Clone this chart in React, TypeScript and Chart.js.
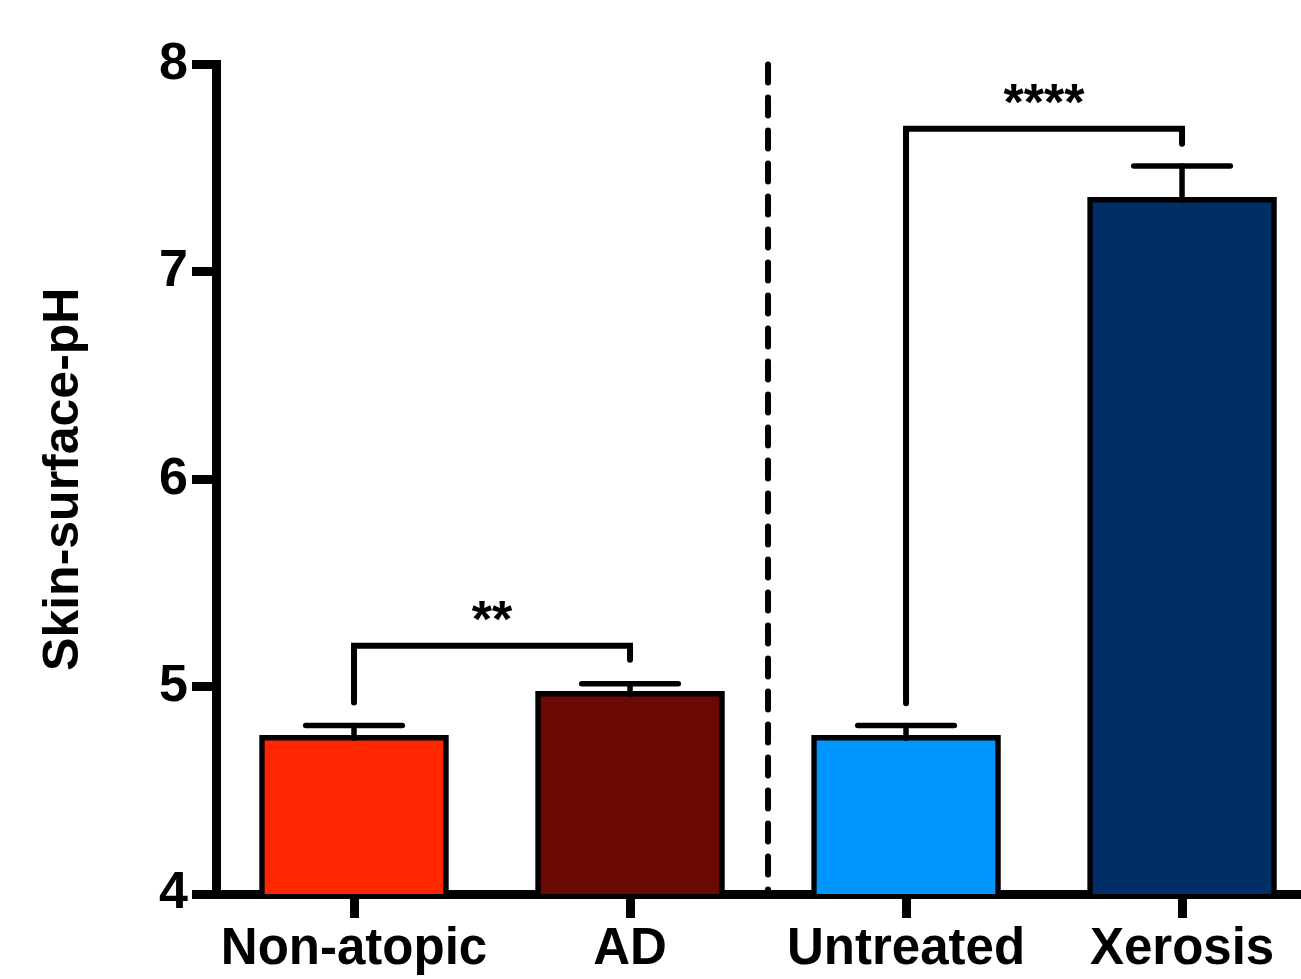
import React, { useEffect, useRef } from 'react';
import { Chart, registerables } from 'chart.js';

Chart.register(...registerables);

const categories = ['Non-atopic', 'AD', 'Untreated', 'Xerosis'];
const positions = [0, 1, 2, 3];
const means = [4.765, 4.977, 4.765, 7.36];
const errorTops = [4.812, 5.014, 4.812, 7.511];
const barColors = ['#FF2600', '#6A0804', '#0096FF', '#002F67'];
const yTickValues = [4, 5, 6, 7, 8];
const dividerAt = 1.5;

const bracketFrom = [0, 2];
const bracketTo = [1, 3];
const bracketTop = [5.197, 7.69];
const bracketLeftEnd = [4.923, 4.92];
const bracketRightEnd = [5.13, 7.618];
const bracketLabels = ['**', '****'];

const FONT = "'Liberation Sans', Arial, Helvetica, sans-serif";

const annotations = {
  id: 'annotations',
  beforeDatasetsDraw(chart: any) {
    const { ctx, scales } = chart;
    const x = scales.x;
    const y = scales.y;
    ctx.save();
    ctx.strokeStyle = '#000';
    ctx.lineWidth = 6;
    ctx.lineCap = 'round';
    ctx.setLineDash([18, 15]);
    const px = x.getPixelForValue(dividerAt);
    ctx.beginPath();
    ctx.moveTo(px, y.getPixelForValue(yTickValues[yTickValues.length - 1]));
    ctx.lineTo(px, y.getPixelForValue(yTickValues[0]));
    ctx.stroke();
    ctx.restore();
  },
  afterDatasetsDraw(chart: any) {
    const { ctx, scales } = chart;
    const x = scales.x;
    const y = scales.y;
    ctx.save();
    ctx.strokeStyle = '#000';
    ctx.fillStyle = '#000';
    ctx.lineWidth = 5.5;
    ctx.lineCap = 'round';
    positions.forEach((p, i) => {
      const cx = x.getPixelForValue(p);
      const half = x.getPixelForValue(p + 0.175) - cx;
      const yt = y.getPixelForValue(errorTops[i]);
      const yb = y.getPixelForValue(means[i]) + 3;
      ctx.beginPath();
      ctx.moveTo(cx, yb);
      ctx.lineTo(cx, yt);
      ctx.stroke();
      ctx.beginPath();
      ctx.moveTo(cx - half, yt);
      ctx.lineTo(cx + half, yt);
      ctx.stroke();
    });
    ctx.lineWidth = 6;
    ctx.lineJoin = 'miter';
    ctx.lineCap = 'round';
    ctx.font = `bold 52px ${FONT}`;
    ctx.textAlign = 'center';
    ctx.textBaseline = 'alphabetic';
    bracketLabels.forEach((lab, i) => {
      const x1 = x.getPixelForValue(positions[bracketFrom[i]]);
      const x2 = x.getPixelForValue(positions[bracketTo[i]]);
      const yt = y.getPixelForValue(bracketTop[i]);
      ctx.beginPath();
      ctx.moveTo(x1, y.getPixelForValue(bracketLeftEnd[i]));
      ctx.lineTo(x1, yt);
      ctx.lineTo(x2, yt);
      ctx.lineTo(x2, y.getPixelForValue(bracketRightEnd[i]));
      ctx.stroke();
      ctx.fillText(lab, (x1 + x2) / 2, yt - 9);
    });
    ctx.restore();
  },
};

export default function App() {
  const ref = useRef<HTMLCanvasElement | null>(null);
  useEffect(() => {
    if (!ref.current) return;
    Chart.defaults.font.family = FONT;
    const chart = new Chart(ref.current, {
      type: 'bar',
      data: {
        datasets: [
          {
            data: positions.map((p, i) => ({ x: p, y: means[i] })),
            backgroundColor: barColors,
            borderColor: '#000',
            borderWidth: 5.5,
            borderSkipped: 'start',
            barThickness: 189,
          },
        ],
      },
      options: {
        animation: false,
        responsive: false,
        layout: { padding: { top: 64.5, left: 0, right: 0, bottom: 0 } },
        plugins: { legend: { display: false }, tooltip: { enabled: false } },
        scales: {
          x: {
            type: 'linear',
            min: -0.5,
            max: 3.431,
            offset: false,
            z: 1,
            afterBuildTicks: (s: any) => {
              s.ticks = positions.map((v) => ({ value: v }));
            },
            afterFit: (s: any) => {
              s.height = 85;
            },
            ticks: {
              autoSkip: false,
              maxRotation: 0,
              padding: 1,
              color: '#000',
              font: { size: 51, weight: 'bold', family: FONT },
              callback: (v: any) => {
                const idx = positions.indexOf(Number(v));
                return idx >= 0 ? categories[idx] : '';
              },
            },
            grid: {
              display: true,
              offset: false,
              drawOnChartArea: false,
              drawTicks: true,
              tickLength: 24,
              tickWidth: 9,
              tickColor: '#000',
              lineWidth: 9,
              color: '#000',
            },
            border: { display: true, width: 9, color: '#000' },
          },
          y: {
            min: 4,
            max: 8,
            z: 1,
            afterBuildTicks: (s: any) => {
              s.ticks = yTickValues.map((v) => ({ value: v }));
            },
            afterFit: (s: any) => {
              s.width = 216;
            },
            ticks: {
              padding: 4,
              color: '#000',
              font: { size: 52, weight: 'bold', family: FONT },
            },
            grid: {
              display: true,
              drawOnChartArea: false,
              drawTicks: true,
              tickLength: 24,
              tickWidth: 9,
              tickColor: '#000',
              lineWidth: 9,
              color: '#000',
            },
            border: { display: true, width: 9, color: '#000' },
            title: {
              display: true,
              text: 'Skin-surface-pH',
              color: '#000',
              font: { size: 50, weight: 'bold', family: FONT },
              padding: { top: 34, bottom: 0 },
            },
          },
        },
      } as any,
      plugins: [annotations],
    });
    return () => chart.destroy();
  }, []);
  return (
    <canvas
      ref={ref}
      width={1301}
      height={979}
      style={{ position: 'absolute', left: 0, top: 0, width: 1301, height: 979 }}
    />
  );
}
